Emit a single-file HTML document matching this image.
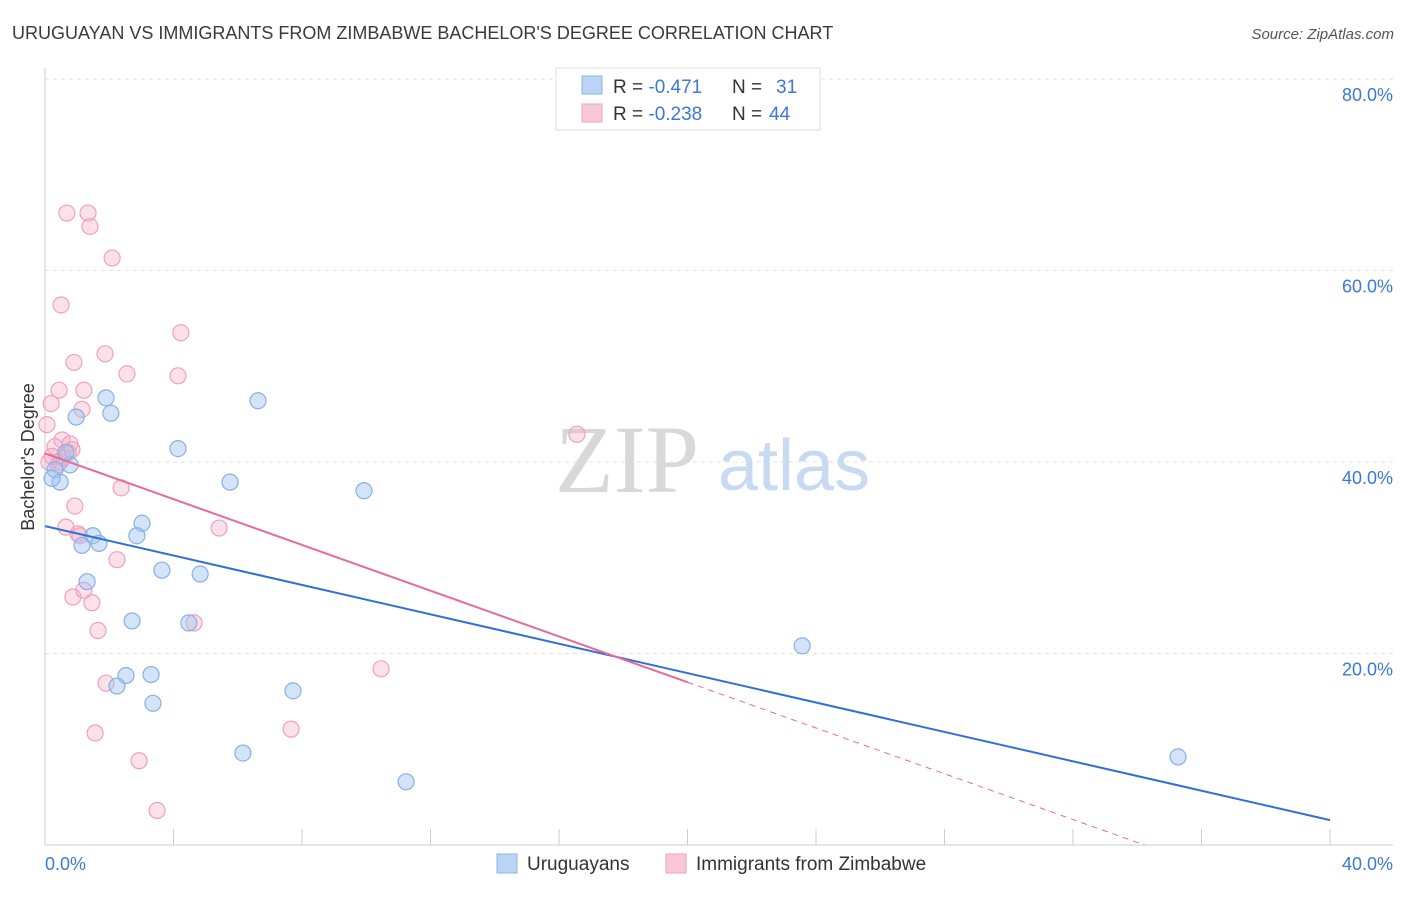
<!DOCTYPE html>
<html><head><meta charset="utf-8"><style>
body{margin:0;background:#fff;font-family:"Liberation Sans",sans-serif;}
svg text{font-family:"Liberation Sans",sans-serif;}
</style></head><body>
<svg id="chart" width="1406" height="892">
<text x="12" y="39" font-size="18" fill="#3a3a3a">URUGUAYAN VS IMMIGRANTS FROM ZIMBABWE BACHELOR'S DEGREE CORRELATION CHART</text>
<text x="1394" y="39" font-size="15" fill="#555" text-anchor="end" font-style="italic">Source: ZipAtlas.com</text>
<g id="grid"></g>
<g id="axes"></g>
<text x="555" y="492" font-size="96" fill="#d8d8d8" font-family="Liberation Serif" style="font-family:'Liberation Serif',serif">ZIP</text>
<text x="718" y="490" font-size="72" fill="#c8daf2">atlas</text>
<g id="pts"></g>
<g id="lines"></g>
<text transform="translate(34,457) rotate(-90)" font-size="18" fill="#333" text-anchor="middle">Bachelor's Degree</text>
<g>
<rect x="556" y="68" width="264" height="62" fill="#fff" stroke="#ddd"/>
<rect x="582" y="76" width="20" height="18" fill="#bcd4f4" stroke="#8ab4e8"/>
<rect x="582" y="104" width="20" height="18" fill="#f9c8d8" stroke="#f0a0bb"/>
<text x="613" y="93" font-size="19" fill="#333">R = <tspan fill="#3b78d8">-0.471</tspan><tspan x="732">N = </tspan><tspan x="776" fill="#3b78d8">31</tspan></text>
<text x="613" y="120" font-size="19" fill="#333">R = <tspan fill="#3b78d8">-0.238</tspan><tspan x="732">N = </tspan><tspan x="769" fill="#3b78d8">44</tspan></text>
</g>
<g>
<rect x="497" y="854" width="20" height="19" fill="#bcd4f4" stroke="#8ab4e8"/>
<text x="527" y="870" font-size="19" fill="#333">Uruguayans</text>
<rect x="666" y="854" width="20" height="19" fill="#f9c8d8" stroke="#f0a0bb"/>
<text x="696" y="870" font-size="19" fill="#333">Immigrants from Zimbabwe</text>
</g>
</svg>
<script>
const blueX=[1.90,2.05,0.97,6.63,4.14,0.78,0.65,0.31,0.47,5.76,9.93,3.02,1.49,2.86,1.15,1.68,1.31,3.64,4.83,2.71,4.48,2.52,2.24,3.30,3.36,7.72,6.16,11.24,23.57,35.27,0.22];
const blueY=[46.7,45.1,44.7,46.4,41.4,39.7,41.0,39.2,37.9,37.9,37.0,33.6,32.3,32.3,31.3,31.5,27.5,28.7,28.3,23.4,23.2,17.7,16.6,17.8,14.8,16.1,9.6,6.6,20.8,9.2,38.3];
const pinkX=[0.68,1.34,1.40,2.09,0.50,4.23,1.87,0.90,2.55,4.14,0.44,1.21,0.19,1.15,0.06,0.53,0.78,0.31,0.56,0.40,0.12,2.37,0.93,0.65,5.42,1.03,1.09,2.24,0.87,1.21,1.46,4.64,1.65,1.90,10.46,1.56,7.66,2.93,3.49,16.56,0.22,0.47,0.72,0.84];
const pinkY=[66.0,66.0,64.6,61.3,56.4,53.5,51.3,50.4,49.2,49.0,47.5,47.5,46.1,45.5,43.9,42.3,41.9,41.6,40.4,39.7,40.0,37.3,35.4,33.2,33.1,32.5,32.3,29.8,25.9,26.6,25.3,23.2,22.4,16.9,18.4,11.7,12.1,8.8,3.6,42.9,40.6,40.0,41.0,41.3];
const blueTrend=[33.3,-0.7675];
const pinkTrend=[40.9,-1.195];
const yTicks=[20,40,60,80];
const xTickLabels=["0.0%","40.0%"];
const ns="http://www.w3.org/2000/svg";
const X=v=>45+v*32.125, Y=v=>845-v*9.575;
function mk(t,a,p){const e=document.createElementNS(ns,t);for(const k in a)e.setAttribute(k,a[k]);p.appendChild(e);return e;}
const grid=document.getElementById('grid'),axes=document.getElementById('axes');
yTicks.forEach(v=>{
 const l=mk('line',{x1:45,x2:1393,y1:Y(v),y2:Y(v),stroke:'#e2e2e2','stroke-dasharray':'4,4'},grid);
 
 
 const t=mk('text',{x:1393,y:Y(v)+22,'font-size':18,fill:'#3b78d8','text-anchor':'end'},axes);
 t.textContent=v.toFixed(1)+'%';
 
 
});
mk('line',{x1:45,x2:45,y1:68,y2:845,stroke:'#ccc'},axes);
mk('line',{x1:45,x2:1393,y1:845,y2:845,stroke:'#ccc'},axes);
for(let i=1;i<=10;i++){mk('line',{x1:X(i*4),x2:X(i*4),y1:829,y2:845,stroke:'#ccc'},axes);}
const xl0=mk('text',{x:45,y:870,'font-size':18,fill:'#3b78d8'},axes);xl0.textContent=xTickLabels[0];


const xl1=mk('text',{x:1393,y:870,'font-size':18,fill:'#3b78d8','text-anchor':'end'},axes);xl1.textContent=xTickLabels[1];


const pts=document.getElementById('pts');
pinkX.forEach((x,i)=>{const c=mk('circle',{cx:X(x),cy:Y(pinkY[i]),r:8,fill:'rgba(246,170,196,0.35)',stroke:'#f0a0bb','stroke-width':1.2},pts);
 
 });
blueX.forEach((x,i)=>{const c=mk('circle',{cx:X(x),cy:Y(blueY[i]),r:8,fill:'rgba(160,195,240,0.45)',stroke:'#86b0e6','stroke-width':1.2},pts);
 
 });
const lines=document.getElementById('lines');
const bl=mk('line',{x1:X(0),y1:Y(blueTrend[0]),x2:X(40),y2:Y(blueTrend[0]+blueTrend[1]*40),stroke:'#2f6fd6','stroke-width':2},lines);


const pl=mk('line',{x1:X(0),y1:Y(pinkTrend[0]),x2:X(20),y2:Y(pinkTrend[0]+pinkTrend[1]*20),stroke:'#e8699a','stroke-width':2},lines);


const xe=-pinkTrend[0]/pinkTrend[1];
const pd=mk('line',{x1:X(20),y1:Y(pinkTrend[0]+pinkTrend[1]*20),x2:X(xe),y2:Y(0),stroke:'#e8699a','stroke-width':1,'stroke-dasharray':'6,5'},lines);


</script>
</body></html>
